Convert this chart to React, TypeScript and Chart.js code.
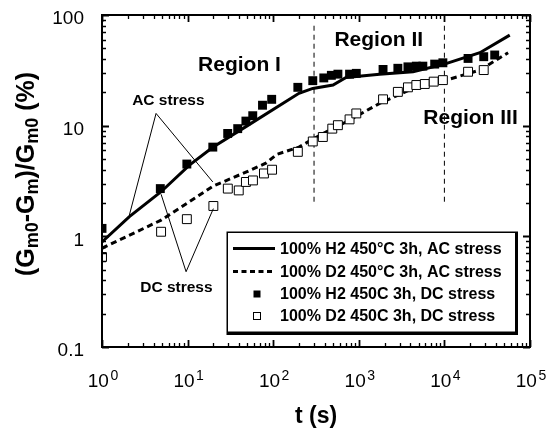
import React, { useEffect, useRef } from "react";
import { Chart, registerables } from "chart.js";

Chart.register(...registerables);

// ---- data ----
const acH2T = [1, 2.09, 4.9, 10.5, 19.7, 48, 200, 290, 500, 710, 1750, 4300, 10000, 26000, 58000];
const acH2V = [0.89, 1.51, 2.53, 4.4, 6.37, 9.8, 19.6, 21.7, 23.3, 27.3, 29.2, 30.7, 36, 45.6, 65.8];

const acD2T = [1, 4.9, 20, 48, 83, 110, 200, 350, 710, 1750, 4300, 10500, 26000, 55500];
const acD2V = [0.78, 1.4, 2.85, 3.8, 4.6, 5.5, 6.4, 8.2, 10.8, 15.9, 21.7, 25.8, 31.8, 45.6];

const dcH2T = [1, 4.8, 9.8, 19.7, 29.4, 38.5, 48, 57.7, 75, 96, 194, 290, 390, 478, 570, 780, 935, 1920, 2860, 3750, 4700, 5600, 7700, 9600, 18900, 28800, 38700];
const dcH2V = [1.18, 2.7, 4.5, 6.4, 8.5, 9.4, 11, 12.3, 15.3, 17.3, 22.2, 25.5, 27, 28.5, 29.2, 29.2, 29.7, 32.2, 33, 34, 34.5, 34.5, 36, 37, 40.5, 42, 43.5];

const dcD2T = [1, 4.9, 9.8, 20, 29.5, 39.6, 48, 58, 78, 97, 194, 290, 380, 490, 570, 780, 935, 1920, 2860, 3750, 4700, 5900, 7500, 9600, 18900, 28800];
const dcD2V = [0.65, 1.1, 1.43, 1.88, 2.7, 2.6, 3.1, 3.2, 3.7, 4.0, 5.8, 7.2, 7.9, 9.4, 10.1, 11.4, 12.9, 17.3, 20.2, 22.2, 23.3, 23.8, 25, 25.8, 30.7, 31.8];

const regionBoundT = [300, 10000];
const regionBoundV = [80, 1.9];

const xTickBase = "10";
const xTickExponents = ["0", "1", "2", "3", "4", "5"];
const yTickLabels = ["0.1", "1", "10", "100"];

const legendLabels = [
  "100% H2 450\u00B0C 3h, AC stress",
  "100% D2 450\u00B0C 3h, AC stress",
  "100% H2 450C 3h, DC stress",
  "100% D2 450C 3h, DC stress",
];

const regionLabels = ["Region I", "Region II", "Region III"];
const regionLabelT = [40.4, 1710, 20200];
const regionLabelV = [35.2, 58.7, 11.8];

const noteLabels = ["AC stress", "DC stress"];
const noteLabelT = [5.96, 7.4];
const noteLabelV = [16.8, 0.341];
// pointer lines: origin, then targets
const acPointerFrom = [4.28, 12.9];
const acPointerTo = [[2.09, 1.56], [19.7, 3.1]];
const dcPointerFrom = [9.6, 0.479];
const dcPointerTo = [[4.9, 2.4], [20, 1.78]];

const xTitle = "t (s)";

const FONT = "'Liberation Sans', Arial, Helvetica, sans-serif";

function pts(t: number[], v: number[]) {
  return t.map((x, i) => ({ x, y: v[i] }));
}

function isDecade(v: number) {
  const l = Math.log10(v);
  return Math.abs(l - Math.round(l)) < 1e-6;
}

const decorPlugin = {
  id: "decor",
  afterDraw(chart: any) {
    const ctx: CanvasRenderingContext2D = chart.ctx;
    const { left, right, top, bottom } = chart.chartArea;
    const xs = chart.scales.x;
    const ys = chart.scales.y;
    const px = (v: number) => xs.getPixelForValue(v);
    const py = (v: number) => ys.getPixelForValue(v);
    ctx.save();
    ctx.strokeStyle = "#000";
    ctx.fillStyle = "#000";

    // frame
    ctx.lineWidth = 2;
    ctx.strokeRect(left, top, right - left, bottom - top);

    // inward ticks, x
    for (let e = 0; e <= 5; e++) {
      for (let m = 1; m <= 9; m++) {
        const v = m * Math.pow(10, e);
        if (v > 1e5 + 1) break;
        const x = Math.round(px(v)) + 0.5;
        const len = m === 1 ? 7 : 4;
        ctx.lineWidth = m === 1 ? 1.8 : 1.3;
        ctx.beginPath();
        ctx.moveTo(x, bottom);
        ctx.lineTo(x, bottom - len);
        ctx.moveTo(x, top);
        ctx.lineTo(x, top + len);
        ctx.stroke();
      }
    }
    // inward ticks, y
    for (let e = -1; e <= 2; e++) {
      for (let m = 1; m <= 9; m++) {
        const v = m * Math.pow(10, e);
        if (v > 100 + 1e-6) break;
        const y = Math.round(py(v)) + 0.5;
        const len = m === 1 ? 7 : 4;
        ctx.lineWidth = m === 1 ? 1.8 : 1.3;
        ctx.beginPath();
        ctx.moveTo(left, y);
        ctx.lineTo(left + len, y);
        ctx.moveTo(right, y);
        ctx.lineTo(right - len, y);
        ctx.stroke();
      }
    }

    // x tick labels: 10 with raised exponent, at each decade tick of the scale
    ctx.textBaseline = "alphabetic";
    ctx.textAlign = "left";
    xs.ticks.forEach((t: any) => {
      if (!isDecade(t.value)) return;
      const exp = xTickExponents[Math.round(Math.log10(t.value))];
      const x = px(t.value);
      ctx.font = `19px ${FONT}`;
      const wb = ctx.measureText(xTickBase).width;
      ctx.font = `14px ${FONT}`;
      const we = ctx.measureText(exp).width;
      const x0 = x - (wb + 1.5 + we) / 2 + 1;
      ctx.font = `19px ${FONT}`;
      ctx.fillText(xTickBase, x0, bottom + 40);
      ctx.font = `14px ${FONT}`;
      ctx.fillText(exp, x0 + wb + 1.5, bottom + 33);
    });

    // pointer lines
    ctx.lineWidth = 1;
    ctx.beginPath();
    for (const tgt of acPointerTo) {
      ctx.moveTo(px(acPointerFrom[0]), py(acPointerFrom[1]));
      ctx.lineTo(px(tgt[0]), py(tgt[1]));
    }
    for (const tgt of dcPointerTo) {
      ctx.moveTo(px(dcPointerFrom[0]), py(dcPointerFrom[1]));
      ctx.lineTo(px(tgt[0]), py(tgt[1]));
    }
    ctx.stroke();

    // region labels
    ctx.textAlign = "center";
    ctx.textBaseline = "middle";
    ctx.font = `bold 21px ${FONT}`;
    regionLabels.forEach((s, i) => {
      ctx.fillText(s, px(regionLabelT[i]), py(regionLabelV[i]));
    });
    ctx.font = `bold 15.5px ${FONT}`;
    noteLabels.forEach((s, i) => {
      ctx.fillText(s, px(noteLabelT[i]), py(noteLabelV[i]));
    });

    // legend box with shadow
    const bx = 226.5, by = 231.5, bw = 291.5, bh = 103.5;
    ctx.fillStyle = "#000";
    ctx.fillRect(bx, by, bw, bh);
    ctx.fillStyle = "#fff";
    ctx.fillRect(bx + 1.5, by + 1.5, bw - 4.5, bh - 5);
    ctx.fillStyle = "#000";
    const rowsY = [248.5, 271.5, 294, 316];
    const sx0 = 233, sx1 = 275, mx = 257;
    ctx.lineWidth = 3;
    ctx.beginPath();
    ctx.moveTo(sx0, rowsY[0]);
    ctx.lineTo(sx1, rowsY[0]);
    ctx.stroke();
    ctx.setLineDash([5, 3.5]);
    ctx.beginPath();
    ctx.moveTo(sx0, rowsY[1]);
    ctx.lineTo(sx1, rowsY[1]);
    ctx.stroke();
    ctx.setLineDash([]);
    ctx.fillRect(mx - 3.5, rowsY[2] - 3.5, 7, 7);
    ctx.lineWidth = 1;
    ctx.strokeRect(mx - 3.5, rowsY[3] - 3.5, 7, 7);
    ctx.font = `bold 16px ${FONT}`;
    ctx.textAlign = "left";
    legendLabels.forEach((s, i) => ctx.fillText(s, 280, rowsY[i] + 1));

    // x title
    ctx.font = `bold 23px ${FONT}`;
    ctx.textAlign = "center";
    ctx.textBaseline = "middle";
    ctx.fillText(xTitle, (left + right) / 2, 417);

    // y title with subscripts, rotated
    const segs: [string, boolean][] = [
      ["(G", false], ["m0", true], ["-G", false], ["m", true], [")/G", false], ["m0", true], [" (%)", false],
    ];
    const mainF = `bold 25px ${FONT}`;
    const subF = `bold 18px ${FONT}`;
    let total = 0;
    const widths = segs.map(([t, sub]) => {
      ctx.font = sub ? subF : mainF;
      const w = ctx.measureText(t).width;
      total += w;
      return w;
    });
    ctx.translate(34, 174);
    ctx.rotate(-Math.PI / 2);
    ctx.textAlign = "left";
    ctx.textBaseline = "alphabetic";
    let cx = -total / 2;
    segs.forEach(([t, sub], i) => {
      ctx.font = sub ? subF : mainF;
      ctx.fillText(t, cx, sub ? 4 : 0);
      cx += widths[i];
    });
    ctx.restore();
  },
};

export default function App() {
  const ref = useRef<HTMLCanvasElement | null>(null);
  useEffect(() => {
    if (!ref.current) return;
    const chart = new Chart(ref.current, {
      type: "scatter",
      data: {
        datasets: [
          {
            label: legendLabels[2],
            data: pts(dcH2T, dcH2V),
            showLine: false,
            pointStyle: "rect",
            pointRadius: 6.3,
            backgroundColor: "#000",
            borderColor: "#000",
            borderWidth: 0,
            order: 1,
          },
          {
            label: legendLabels[3],
            data: pts(dcD2T, dcD2V),
            showLine: false,
            pointStyle: "rect",
            pointRadius: 6.3,
            backgroundColor: "#fff",
            borderColor: "#000",
            borderWidth: 1,
            order: 2,
          },
          {
            label: legendLabels[0],
            data: pts(acH2T, acH2V),
            showLine: true,
            pointRadius: 0,
            borderColor: "#000",
            borderWidth: 3,
            tension: 0,
            order: 3,
          },
          {
            label: legendLabels[1],
            data: pts(acD2T, acD2V),
            showLine: true,
            pointRadius: 0,
            borderColor: "#000",
            borderWidth: 3,
            borderDash: [6, 4],
            tension: 0,
            order: 4,
          },
          {
            label: "Region boundary 1",
            data: pts([regionBoundT[0], regionBoundT[0]], regionBoundV),
            showLine: true,
            pointRadius: 0,
            borderColor: "#000",
            borderWidth: 1,
            borderDash: [5, 4],
            order: 5,
          },
          {
            label: "Region boundary 2",
            data: pts([regionBoundT[1], regionBoundT[1]], regionBoundV),
            showLine: true,
            pointRadius: 0,
            borderColor: "#000",
            borderWidth: 1,
            borderDash: [5, 4],
            order: 6,
          },
        ],
      },
      options: {
        animation: false,
        responsive: true,
        maintainAspectRatio: false,
        devicePixelRatio: 1,
        layout: { padding: { top: 15, right: 18, bottom: 0, left: 0 } },
        plugins: { legend: { display: false }, tooltip: { enabled: false } },
        events: [],
        scales: {
          x: {
            type: "logarithmic",
            position: "bottom",
            min: 1,
            max: 1e5,
            grid: { display: false },
            border: { display: false },
            ticks: { display: false, autoSkip: false },
            afterFit: (s: any) => {
              s.height = 83;
              s.paddingLeft = 0;
              s.paddingRight = 0;
            },
          },
          y: {
            type: "logarithmic",
            position: "left",
            min: 0.1,
            max: 100,
            grid: { display: false },
            border: { display: false },
            ticks: {
              autoSkip: false,
              padding: 10,
              labelOffset: 4,
              color: "#000",
              font: { family: FONT, size: 19 },
              callback: (v: any) => {
                const n = Number(v);
                return isDecade(n) ? yTickLabels[Math.round(Math.log10(n)) + 1] : "";
              },
            },
            afterFit: (s: any) => {
              s.width = 102;
              s.paddingTop = 0;
              s.paddingBottom = 0;
            },
          },
        },
      } as any,
      plugins: [decorPlugin],
    });
    return () => chart.destroy();
  }, []);
  return (
    <div style={{ position: "absolute", left: 0, top: 0, width: 548, height: 430, background: "#fff" }}>
      <canvas ref={ref} />
    </div>
  );
}
